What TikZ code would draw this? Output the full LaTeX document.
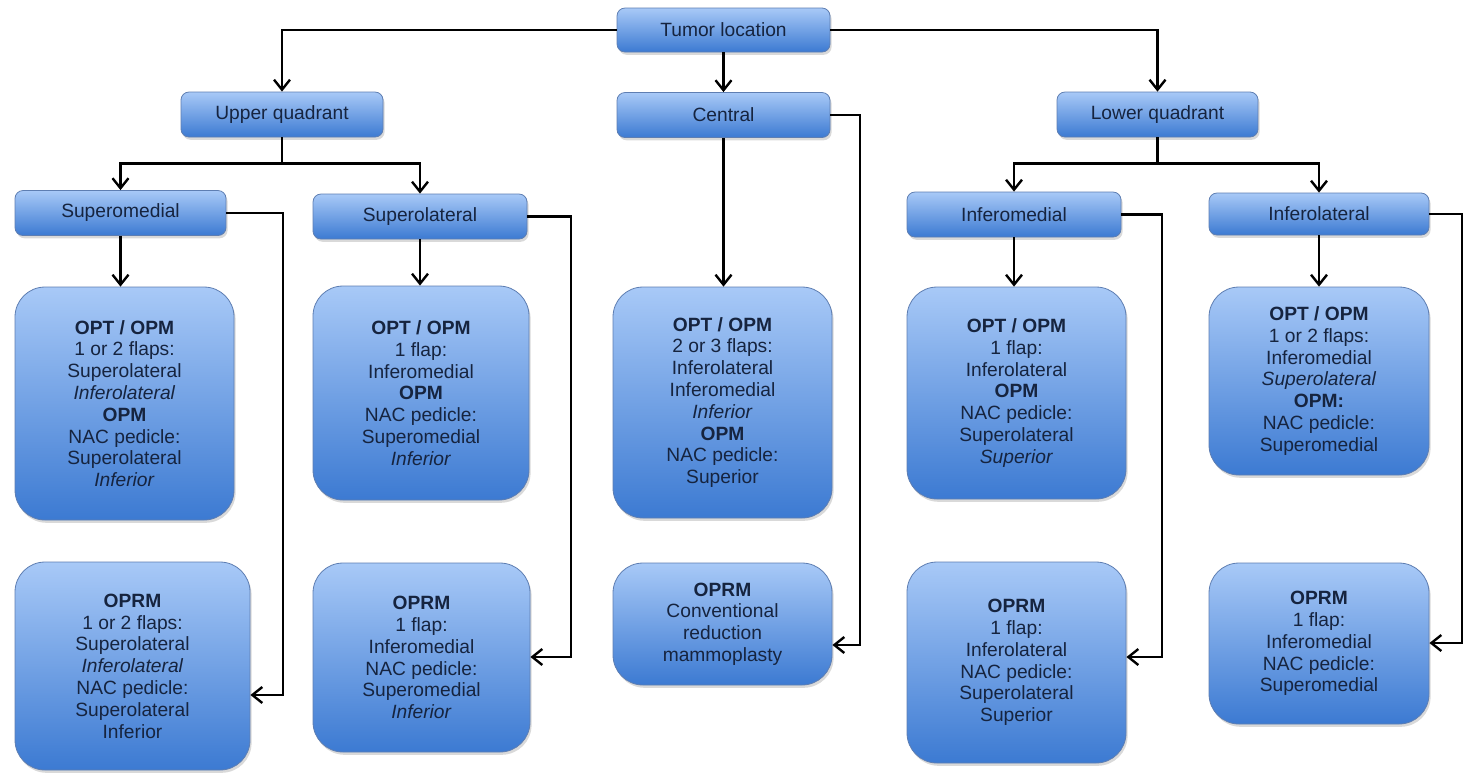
\documentclass[tikz,border=0pt]{standalone}
\usepackage{fontspec}
\setmainfont{Liberation Sans}
\usetikzlibrary{arrows.meta, shadows}

\definecolor{boxtop}{HTML}{A8C9F7}
\definecolor{boxbottom}{HTML}{3C7AD2}
\definecolor{boxedge}{HTML}{5E7EB2}
\definecolor{boxtext}{HTML}{16243F}

\tikzset{
	box/.style = {draw = boxedge, line width = 0.4pt, top color = boxtop, bottom color = boxbottom, text = boxtext, align = center, inner sep = 2pt, font = \fontsize{9.6pt}{10.9pt}\selectfont, drop shadow = {shadow xshift = 0.8pt, shadow yshift = -1.4pt, opacity = 0.3}},
	smallbox/.style = {box, rounded corners = 4pt, minimum height = 22.5pt},
	bigbox/.style = {box, rounded corners = 15pt, minimum width = 109.5pt},
	link/.style = {->, line width = 1.2pt}
}

\begin{document}
\begin{tikzpicture}[x = 0.5pt, y = -0.5pt, > = {Straight Barb[length = 5pt, width = 8pt]}]

	\useasboundingbox (0, 0) rectangle (1466, 773);

	% Location boxes

	\node [smallbox, minimum width = 106.5pt, minimum height = 22pt] (tumor) at (723.5, 30) {Tumor location};
	\node [smallbox, minimum width = 101pt] (upper) at (282, 114.5) {Upper quadrant};
	\node [smallbox, minimum width = 106.5pt] (central) at (723.5, 115) {Central};
	\node [smallbox, minimum width = 100.5pt] (lower) at (1157.5, 114.5) {Lower quadrant};

	\node [smallbox, minimum width = 105.5pt] (supmed) at (120.5, 213) {Superomedial};
	\node [smallbox, minimum width = 107pt] (suplat) at (420, 216.5) {Superolateral};
	\node [smallbox, minimum width = 107pt] (infmed) at (1014, 214.5) {Inferomedial};
	\node [smallbox, minimum width = 110pt, minimum height = 21pt] (inflat) at (1319, 214) {Inferolateral};

	% OPT / OPM boxes

	\node [bigbox, minimum height = 116.5pt] (optsm) at (124.5, 403.5) {\textbf{OPT / OPM}\\1 or 2 flaps:\\Superolateral\\\textit{Inferolateral}\\\textbf{OPM}\\NAC pedicle:\\Superolateral\\\textit{Inferior}};
	\node [bigbox, minimum width = 108pt, minimum height = 107pt] (optsl) at (421, 393) {\textbf{OPT / OPM}\\1 flap:\\Inferomedial\\\textbf{OPM}\\NAC pedicle:\\Superomedial\\\textit{Inferior}};
	\node [bigbox, minimum height = 115.5pt] (optc) at (722.5, 402.5) {\textbf{OPT / OPM}\\2 or 3 flaps:\\Inferolateral\\Inferomedial\\\textit{Inferior}\\\textbf{OPM}\\NAC pedicle:\\Superior};
	\node [bigbox, minimum height = 106pt] (optim) at (1016.5, 393) {\textbf{OPT / OPM}\\1 flap:\\Inferolateral\\\textbf{OPM}\\NAC pedicle:\\Superolateral\\\textit{Superior}};
	\node [bigbox, minimum width = 110pt, minimum height = 94pt] (optil) at (1319, 381) {\textbf{OPT / OPM}\\1 or 2 flaps:\\Inferomedial\\\textit{Superolateral}\\\textbf{OPM:}\\NAC pedicle:\\Superomedial};

	% OPRM boxes

	\node [bigbox, minimum width = 117.5pt, minimum height = 104pt] (oprmsm) at (132.5, 666) {\textbf{OPRM}\\1 or 2 flaps:\\Superolateral\\\textit{Inferolateral}\\NAC pedicle:\\Superolateral\\Inferior};
	\node [bigbox, minimum width = 108.5pt, minimum height = 94.5pt] (oprmsl) at (421.5, 657.5) {\textbf{OPRM}\\1 flap:\\Inferomedial\\NAC pedicle:\\Superomedial\\\textit{Inferior}};
	\node [bigbox, minimum height = 61pt] (oprmc) at (722.5, 624) {\textbf{OPRM}\\Conventional\\reduction\\mammoplasty};
	\node [bigbox, minimum height = 100.5pt] (oprmim) at (1016.5, 662.5) {\textbf{OPRM}\\1 flap:\\Inferolateral\\NAC pedicle:\\Superolateral\\Superior};
	\node [bigbox, minimum width = 110pt, minimum height = 80.5pt] (oprmil) at (1319, 643.5) {\textbf{OPRM}\\1 flap:\\Inferomedial\\NAC pedicle:\\Superomedial};

	% Tree links

	\draw [link] (tumor.west) -| (upper.north);
	\draw [link] (tumor.south) -- (central.north);
	\draw [link] (tumor.east) -| (lower.north);

	\draw [link] (upper.south) -- ++(0, 26) -| (supmed.north);
	\draw [link] (upper.south) -- ++(0, 26) -| (suplat.north);
	\draw [link] (lower.south) -- ++(0, 26) -| (infmed.north);
	\draw [link] (lower.south) -- ++(0, 26) -| (inflat.north);

	\foreach \from / \to in {supmed/optsm, suplat/optsl, central/optc, infmed/optim, inflat/optil}
		\draw [link] (\from.south) -- (\from.south |- \to.north);

	% Side links to OPRM

	\foreach \from / \to / \x / \y in {supmed/oprmsm/283/695, suplat/oprmsl/571/657, central/oprmc/860/645, infmed/oprmim/1162/657, inflat/oprmil/1462/643}
	{
		\coordinate (turn) at (\x, \y);
		\draw [link] (\from.east) -| (turn) -- (\to.east |- turn);
	}

\end{tikzpicture}
\end{document}
